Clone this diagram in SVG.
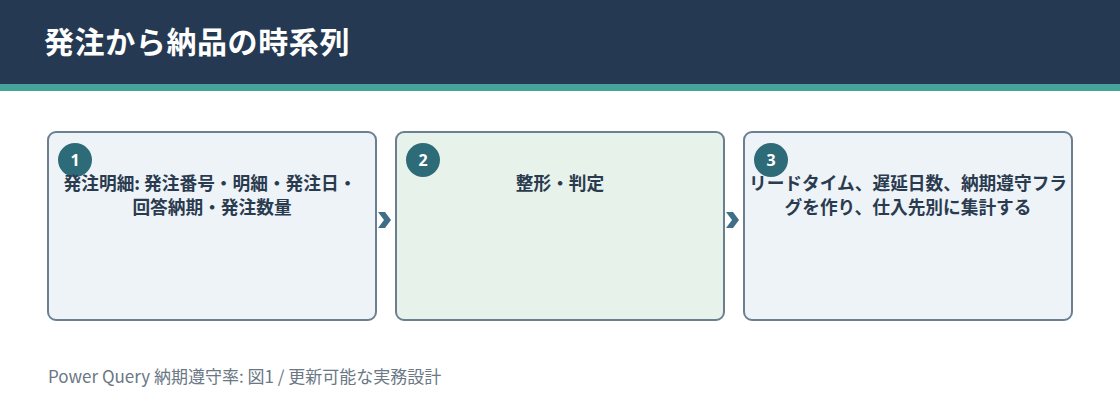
<svg xmlns="http://www.w3.org/2000/svg" width="1120" height="420" viewBox="0 0 1120 420">
<style>
.box{stroke:#6b7f91;stroke-width:2}
.b1{fill:#eef3f8}
.b2{fill:#e7f2ea}
.num{fill:#2e6b78}
.numt{fill:#ffffff;font-family:"Noto Sans","Noto Sans CJK JP",sans-serif;font-size:16px;font-weight:700;text-anchor:middle}
.lbl{fill:#2a3b4f;font-family:"Noto Sans CJK JP","Noto Sans",sans-serif;font-size:17.7px;font-weight:700;text-anchor:middle}
.chev{fill:#3f6f88}
</style>
<rect x="0" y="0" width="1120" height="84" fill="#253a52"/>
<rect x="0" y="84" width="1120" height="7" fill="#46a399"/>
<text x="44" y="53" fill="#ffffff" font-family="Noto Sans CJK JP, sans-serif" font-size="30" font-weight="700" letter-spacing="0.6">発注から納品の時系列</text>
<g id="connectors">
<path class="chev" d="M378,212 L385,212 L391,220 L385,228 L378,228 L384,220 Z"/>
<path class="chev" d="M726,212 L733,212 L739,220 L733,228 L726,228 L732,220 Z"/>
</g>
<g id="node1">
<rect class="box b1" x="48" y="132" width="328" height="188" rx="8"/>
<circle class="num" cx="75" cy="160" r="17"/>
<text class="numt" x="75" y="165.5">1</text>
<text class="lbl" x="210" y="190">発注明細: 発注番号・明細・発注日・</text>
<text class="lbl" x="212" y="214">回答納期・発注数量</text>
</g>
<g id="node2">
<rect class="box b2" x="396" y="132" width="328" height="188" rx="8"/>
<circle class="num" cx="423" cy="160" r="17"/>
<text class="numt" x="423" y="165.5">2</text>
<text class="lbl" x="560" y="190">整形・判定</text>
</g>
<g id="node3">
<rect class="box b1" x="744" y="132" width="328" height="188" rx="8"/>
<circle class="num" cx="771" cy="160" r="17"/>
<text class="numt" x="771" y="165.5">3</text>
<text class="lbl" x="908" y="190">リードタイム、遅延日数、納期遵守フラ</text>
<text class="lbl" x="908" y="214">グを作り、仕入先別に集計する</text>
</g>
<text x="48" y="383" fill="#6b7785" font-family="Noto Sans CJK JP, sans-serif" font-size="17">Power Query 納期遵守率: 図1 / 更新可能な実務設計</text>
</svg>
